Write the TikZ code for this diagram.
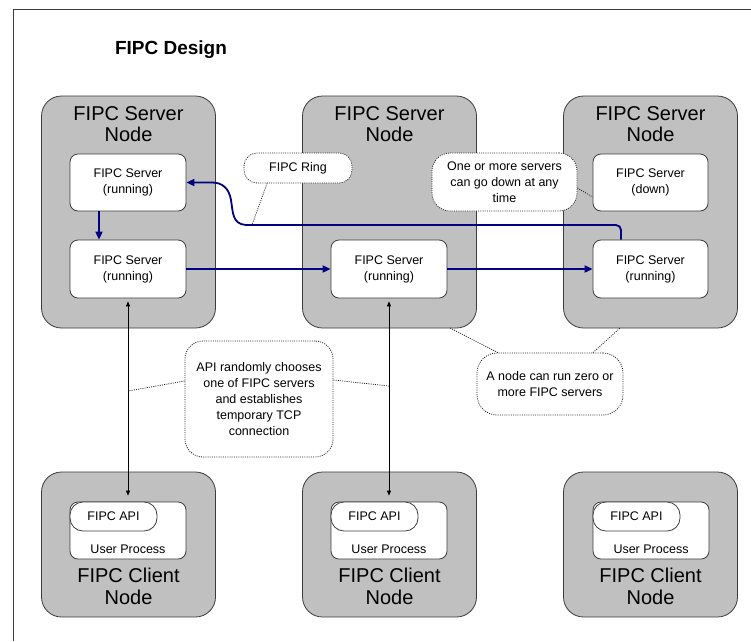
\documentclass[tikz,border=0pt]{standalone}
\usepackage{fontspec}
\setmainfont{Liberation Sans}
\usetikzlibrary{arrows.meta}
\definecolor{hostgray}{RGB}{192,192,192}
\definecolor{ringblue}{RGB}{0,0,128}
\definecolor{edge}{RGB}{60,60,60}

\tikzset{
  hostbox/.style={draw=edge, fill=hostgray, line width=0.8pt, rounded corners=20pt, inner sep=0pt},
  procbox/.style={draw=edge, fill=white, line width=0.8pt, rounded corners=8pt, inner sep=0pt,
    align=center, font=\fontsize{12.5}{16}\selectfont},
  apibox/.style={draw=edge, fill=white, line width=0.8pt, rounded corners=13pt, inner sep=0pt,
    font=\fontsize{12.5}{16}\selectfont},
  hosttitle/.style={align=center, inner sep=0pt, font=\fontsize{20}{21.5}\selectfont},
  small/.style={inner sep=0pt, font=\fontsize{12.5}{16}\selectfont},
  note/.style={draw=black!85, fill=white, line width=0.8pt, dash pattern=on 1pt off 1.2pt,
    inner sep=0pt, align=center, font=\fontsize{12.5}{16}\selectfont},
  tail/.style={draw=black!85, line width=0.8pt, dash pattern=on 1pt off 1.2pt},
  ring/.style={draw=ringblue, line width=1.8pt, -{Triangle[length=8pt,width=7pt]}},
  link/.style={draw=black, line width=0.7pt, {Triangle[length=5pt,width=4pt]}-{Triangle[length=5pt,width=4pt]},
    shorten <=3pt, shorten >=6pt}
}

\begin{document}
\begin{tikzpicture}[x=1pt,y=-1pt]
\useasboundingbox (0,0) rectangle (751,641);

% frame
\draw[edge, line width=0.8pt] (13,641) -- (13,9) -- (751,9);

\node[inner sep=0pt, font=\fontsize{19}{22}\selectfont\bfseries] (title) at (171,50) {FIPC Design};

% server hosts
\node[hostbox, minimum width=174pt, minimum height=232pt] (s1) at (128.5,212) {};
\node[hostbox, minimum width=174pt, minimum height=232pt] (s2) at (389.5,212) {};
\node[hostbox, minimum width=174pt, minimum height=232pt] (s3) at (650.5,212) {};
\node[hosttitle] (s1t) at (128.5,124) {FIPC Server\\Node};
\node[hosttitle] (s2t) at (389.5,124) {FIPC Server\\Node};
\node[hosttitle] (s3t) at (650.5,124) {FIPC Server\\Node};

% server processes
\node[procbox, minimum width=116pt, minimum height=57pt] (s1a) at (128,182.5) {FIPC Server\\(running)};
\node[procbox, minimum width=116pt, minimum height=58pt] (s1b) at (128,269) {FIPC Server\\(running)};
\node[procbox, minimum width=116pt, minimum height=58pt] (s2b) at (389,269) {FIPC Server\\(running)};
\node[procbox, minimum width=115pt, minimum height=57pt] (s3a) at (650.5,182.5) {FIPC Server\\(down)};
\node[procbox, minimum width=115pt, minimum height=58pt] (s3b) at (650.5,269) {FIPC Server\\(running)};

% client hosts
\foreach \i/\cx/\ix in {1/128.5/128, 2/389.5/389, 3/650.5/651} {
  \node[hostbox, minimum width=174pt, minimum height=145pt] (c\i) at (\cx,544.5) {};
  \node[procbox, minimum width=116pt, minimum height=57pt] (c\i in) at (\ix,530.5) {};
  \node[apibox, minimum width=87pt, minimum height=29pt, anchor=north west] (c\i api) at (c\i in.north west) {FIPC API};
  \node[small] (c\i up) at (\ix,549) {User Process};
  \node[hosttitle, font=\fontsize{20}{22.5}\selectfont] (c\i t) at (\cx,586.5) {FIPC Client\\Node};
}

% ring of servers
\coordinate (rt) at (252,225);
\draw[ring] ([xshift=-29pt]s1a.south) -- ([xshift=-29pt]s1b.north);
\draw[ring] (s1b.east) -- (s2b.west);
\draw[ring] (s2b.east) -- (s3b.west);
\draw[ring] ([xshift=-29.5pt]s3b.north) [rounded corners=5pt] |- (rt) [sharp corners]
  -- (246,225) .. controls (232,224) and (233,212) .. (231,200)
  .. controls (229,188) and (222,182.5) .. (212,182.5) -- (s1a.east);

% client connections
\draw[link] (s1b.south) -- (c1in.north);
\draw[link] (s2b.south) -- (c2in.north);

% callouts
\coordinate (a1) at (128,391);
\coordinate (a2) at (389,386);
\coordinate (z1) at (450,328);
\coordinate (z2) at (620,328);

\node[note, rounded corners=13pt, minimum width=108pt, minimum height=30pt] (ringnote) at (298,168) {FIPC Ring};
\node[note, rounded corners=18pt, minimum width=145pt, minimum height=58pt] (downnote) at (504.5,182) {One or more servers\\can go down at any\\time};
\node[note, rounded corners=18pt, minimum width=148pt, minimum height=116pt] (apinote) at (259,399) {API randomly chooses\\one of FIPC servers\\and establishes\\temporary TCP\\connection};
\node[note, rounded corners=20pt, minimum width=146pt, minimum height=62pt] (zeronote) at (550,384) {A node can run zero or\\more FIPC servers};

\draw[tail] ([xshift=-31pt]ringnote.south) -- (rt);
\draw[tail] ([yshift=-6pt]downnote.east) -- ([yshift=-14.5pt]s3a.west);
\draw[tail] ([yshift=18pt]apinote.west) -- (a1);
\draw[tail] ([yshift=19pt]apinote.east) -- (a2);
\draw[tail] ([xshift=-52pt]zeronote.north) -- (z1);
\draw[tail] ([xshift=43pt]zeronote.north) -- (z2);
\end{tikzpicture}
\end{document}
